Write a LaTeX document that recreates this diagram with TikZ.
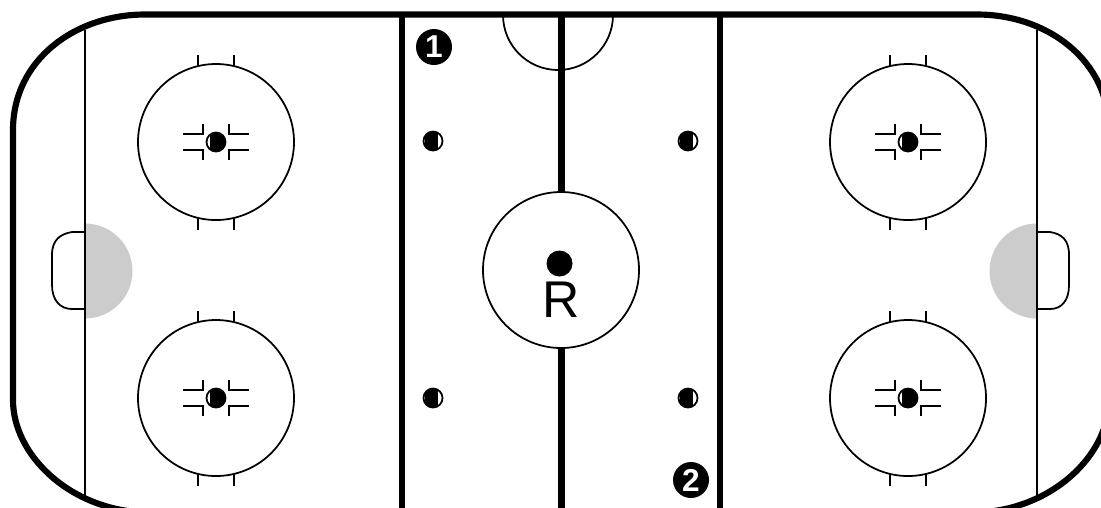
\documentclass[tikz,border=0pt]{standalone}
\usepackage{fontspec}
\setmainfont{Liberation Sans}
\tikzset{
    thinline/.style={line width=.5pt},
    boardline/.style={line width=1.75pt},
    badge/.style={circle,fill=black,text=white,minimum size=.36cm,inner sep=0pt,font=\fontsize{9}{10}\selectfont\bfseries},
    spot/.pic={
        \draw[thinline,fill=white] (0,0) circle(.095);
        \clip (0,0) circle(.095);
        \fill (-.08,-.1) rectangle (.05,.1);
    },
    dotspot/.pic={
        \draw[thinline,fill=white] (0,0) circle(.095);
        \clip (0,0) circle(.095);
        \fill (-.06,-.1) rectangle (.09,.1);
    },
    faceoff/.pic={
        \draw[thinline] (0,0) circle(.78);
        \draw[thinline] (-.18,-.875) -- (-.18,-.76);
        \draw[thinline] (.18,-.875) -- (.18,-.76);
        \draw[thinline] (-.18,.875) -- (-.18,.76);
        \draw[thinline] (.18,.875) -- (.18,.76);
        \draw[thinline] (-.33,-.08) -- (-.13,-.08) -- (-.13,-.18);
        \draw[thinline] (.33,-.08) -- (.13,-.08) -- (.13,-.18);
        \draw[thinline] (-.33,.08) -- (-.13,.08) -- (-.13,.18);
        \draw[thinline] (.33,.08) -- (.13,.08) -- (.13,.18);
        \pic at (0,0) {dotspot};
    }
}
\begin{document}
\begin{tikzpicture}[y=-1cm]
    \useasboundingbox (0,0) rectangle (11.01,5.07);
    \clip (0,0) rectangle (11.01,5.07);

    % creases behind the goal lines
    \fill[gray!40] (.85,2.235) arc[start angle=-90,end angle=90,radius=.475];
    \fill[gray!40] (10.37,2.235) arc[start angle=-90,end angle=-270,radius=.475];
    \draw[thinline] (.85,.3) -- (.85,4.95);
    \draw[thinline] (10.37,.3) -- (10.37,4.95);
    \draw[thinline] (.85,2.32) -- (.72,2.32) .. controls (.6,2.34) and (.52,2.4) .. (.52,2.55) -- (.52,2.85) .. controls (.52,3) and (.6,3.09) .. (.72,3.09) -- (.85,3.09);
    \draw[thinline] (10.37,2.32) -- (10.5,2.32) .. controls (10.62,2.34) and (10.69,2.4) .. (10.69,2.55) -- (10.69,2.85) .. controls (10.69,3) and (10.62,3.09) .. (10.5,3.09) -- (10.37,3.09);

    % lines across the ice
    \draw[boardline] (4.02,.15) -- (4.02,5.1);
    \draw[boardline] (7.2,.15) -- (7.2,5.1);
    \draw[boardline] (5.615,.15) -- (5.615,5.1);

    % boards
    \draw[boardline] (1.45,.145) -- (9.77,.145) .. controls (10.47,.145) and (11.09,.6) .. (11.09,1.3) -- (11.09,4) .. controls (11.09,4.55) and (10.52,5.1) .. (9.77,5.125) -- (1.45,5.125) .. controls (.7,5.1) and (.13,4.55) .. (.13,4) -- (.13,1.3) .. controls (.13,.6) and (.75,.145) .. (1.45,.145) -- cycle;

    \draw[thinline] (5.03,.15) arc[start angle=180,end angle=0,radius=.55];
    \draw[thinline,fill=white] (5.61,2.7) circle(.78);
    \fill (5.595,2.635) circle(.13);
    \node[anchor=base,inner sep=0pt,font=\fontsize{14.7}{16}\selectfont] (ref) at (5.61,3.17) {R};

    \node[badge] (one) at (4.34,.47) {1};
    \node[badge] (two) at (6.91,4.8) {2};

    \pic at (4.33,1.41) {spot};
    \pic at (6.88,1.41) {spot};
    \pic at (4.33,3.98) {spot};
    \pic at (6.88,3.98) {spot};

    \pic at (2.16,1.42) {faceoff};
    \pic at (2.16,3.98) {faceoff};
    \pic at (9.08,1.42) {faceoff};
    \pic at (9.08,3.98) {faceoff};
\end{tikzpicture}
\end{document}
